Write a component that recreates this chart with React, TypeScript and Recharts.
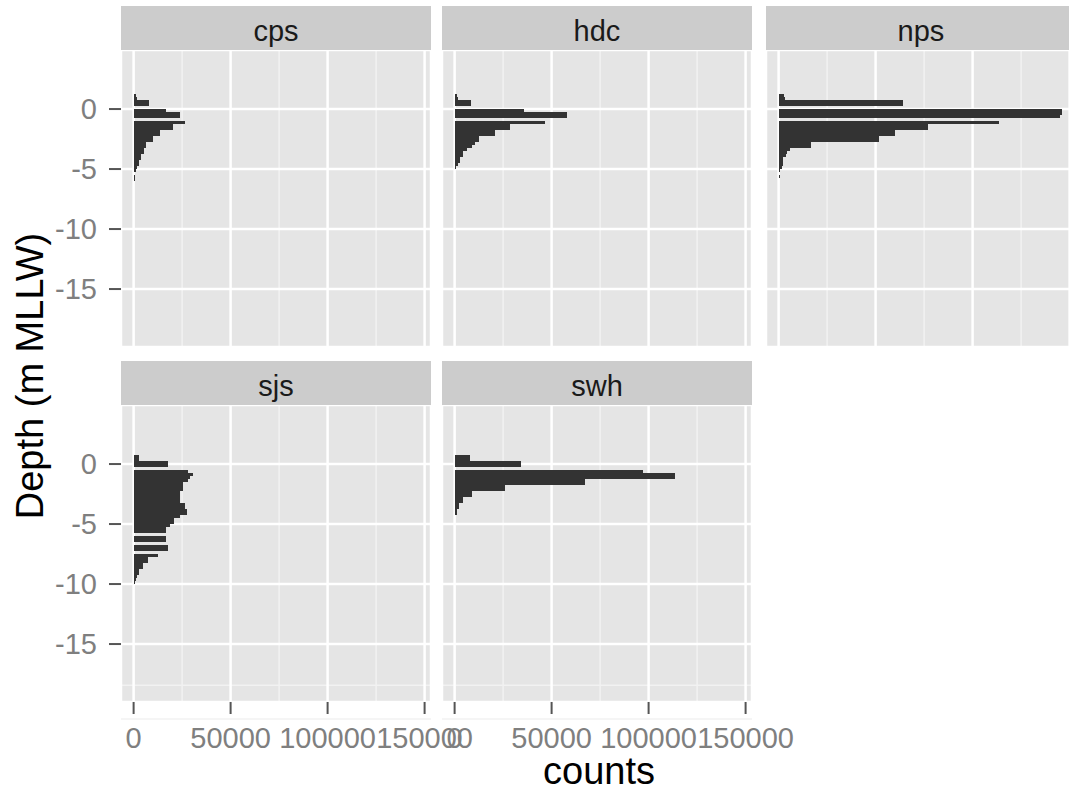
import { BarChart, Bar, XAxis, YAxis, CartesianGrid } from 'recharts';

// depth bins (m MLLW, bin centres, 0.25 m wide)
const DEPTH = [
  1.125, 0.875, 0.625, 0.375, 0.125, -0.125, -0.375, -0.625, -0.875, -1.125,
  -1.375, -1.625, -1.875, -2.125, -2.375, -2.625, -2.875, -3.125, -3.375, -3.625,
  -3.875, -4.125, -4.375, -4.625, -4.875, -5.125, -5.375, -5.625, -5.875, -6.125,
  -6.375, -6.625, -6.875, -7.125, -7.375, -7.625, -7.875, -8.125, -8.375, -8.625,
  -8.875, -9.125, -9.375, -9.625, -9.875,
];

// counts per bin for each site
const CPS = [
  1200, 1700, 7800, 7800, 0, 16800, 23700, 23700, 0, 26300,
  20300, 20300, 13700, 13700, 10000, 10000, 6500, 6500, 5200, 5200,
  4000, 4000, 2800, 2800, 1700, 1000, 0, 900, 700, 0,
  0, 0, 0, 0, 0, 0, 0, 0, 0, 0,
  0, 0, 0, 0, 0,
];
const HDC = [
  1200, 1700, 8600, 8600, 0, 35600, 57700, 57700, 0, 46700,
  28700, 28700, 21000, 21000, 12400, 12400, 10500, 8900, 6400, 4100,
  4100, 2900, 2900, 1700, 800, 0, 0, 0, 0, 0,
  0, 0, 0, 0, 0, 0, 0, 0, 0, 0,
  0, 0, 0, 0, 0,
];
const NPS = [
  3000, 3400, 64000, 64000, 0, 146000, 146000, 145000, 0, 113600,
  77000, 77000, 59800, 59800, 52000, 52000, 16800, 16800, 5700, 4500,
  3600, 2200, 2200, 2200, 1500, 800, 0, 800, 0, 0,
  0, 0, 0, 0, 0, 0, 0, 0, 0, 0,
  0, 0, 0, 0, 0,
];
const SJS = [
  0, 0, 2700, 2700, 17700, 17700, 0, 28000, 30600, 29000,
  28000, 25400, 25400, 25400, 23700, 23700, 23700, 23700, 26300, 26300,
  27500, 27500, 23700, 21000, 21000, 18600, 16800, 16800, 0, 16800,
  16800, 0, 17500, 17500, 0, 12500, 7400, 7400, 4800, 4800,
  2700, 2700, 1700, 1000, 800,
];
const SWH = [
  0, 0, 8100, 8100, 34400, 34400, 0, 96900, 113400, 113400,
  67400, 67400, 25800, 25800, 8900, 8900, 4100, 4100, 2400, 2400,
  1200, 1200, 0, 0, 0, 0, 0, 0, 0, 0,
  0, 0, 0, 0, 0, 0, 0, 0, 0, 0,
  0, 0, 0, 0, 0,
];

const X_TICKS = [0, 50000, 100000, 150000];
const X_MINOR = [25000, 75000, 125000];
const Y_TICKS = [-15, -10, -5, 0];
const Y_MINOR = [2.5, -2.5, -7.5, -12.5, -17.5];
const X_DOMAIN = [-6500, 153300];
const Y_DOMAIN = [-19.83, 4.92];

const rows = DEPTH.map((depth, i) => ({
  depth,
  cps: CPS[i],
  hdc: HDC[i],
  nps: NPS[i],
  sjs: SJS[i],
  swh: SWH[i],
}));

const COL_LEFT = [121, 442, 766];
const ROW_TOP = [50, 405];
const STRIP_H = 44;
const PANEL_W = 310;
const PANEL_H = 297;
const Y_GUTTER = 121;
const X_GUTTER = 60;
const RIGHT_PAD = 60;

const FONT = '"Liberation Sans", Arial, Helvetica, sans-serif';
const tickText = { fill: '#7F7F7F', fontSize: 29, fontFamily: FONT };
const tickLine = { stroke: '#555555', strokeWidth: 2 };

type PanelProps = { site: string; col: number; row: number; showX: boolean; showY: boolean };

const Panel = ({ site, col, row, showX, showY }: PanelProps) => {
  const left = COL_LEFT[col];
  const top = ROW_TOP[row];
  const gutter = showY ? Y_GUTTER : 0;
  const pad = showX ? RIGHT_PAD : 0;
  return (
    <>
      <svg
        width={PANEL_W}
        height={STRIP_H}
        style={{ position: 'absolute', left, top: top - STRIP_H }}
      >
        <rect width={PANEL_W} height={STRIP_H} fill="#CCCCCC" />
        <text x={PANEL_W / 2} y={34.5} textAnchor="middle" fontSize={29} fill="#1A1A1A" fontFamily={FONT}>
          {site}
        </text>
      </svg>
      <div style={{ position: 'absolute', left: left - gutter, top }}>
        <BarChart
          layout="vertical"
          width={gutter + PANEL_W + pad}
          height={PANEL_H + (showX ? X_GUTTER : 0)}
          data={rows}
          margin={{ top: 0, right: pad, bottom: 0, left: 0 }}
          barCategoryGap={0}
        >
          <XAxis
            type="number"
            domain={X_DOMAIN}
            ticks={X_TICKS}
            allowDataOverflow
            interval={0}
            hide={!showX}
            height={X_GUTTER}
            axisLine={false}
            tickSize={12}
            tickMargin={13}
            tick={tickText}
            tickLine={tickLine}
          />
          {/* depth runs upward: shallow at top */}
          <YAxis
            type="number"
            dataKey="depth"
            domain={Y_DOMAIN}
            ticks={Y_TICKS}
            reversed
            allowDataOverflow
            interval={0}
            hide={!showY}
            width={Y_GUTTER}
            axisLine={false}
            tickSize={12}
            tickMargin={12}
            tick={tickText}
            tickLine={tickLine}
          />
          {/* hidden axes carrying the minor grid breaks */}
          <XAxis xAxisId="minor" type="number" domain={X_DOMAIN} ticks={X_MINOR} allowDataOverflow hide />
          <YAxis yAxisId="minor" type="number" domain={Y_DOMAIN} ticks={Y_MINOR} reversed allowDataOverflow hide />
          <CartesianGrid xAxisId="minor" yAxisId="minor" fill="#E5E5E5" stroke="#F2F2F2" strokeWidth={1.5} />
          <CartesianGrid stroke="#FFFFFF" strokeWidth={2.5} />
          <Bar
            dataKey={site}
            fill="#333333"
            maxBarSize={3}
            shapeRendering="crispEdges"
            isAnimationActive={false}
          />
        </BarChart>
      </div>
    </>
  );
};

const App = () => {
  return (
    <div
      style={{
        position: 'absolute',
        left: 0,
        top: 0,
        width: 1069,
        height: 794,
        overflow: 'hidden',
        background: '#FFFFFF',
        fontFamily: FONT,
      }}
    >
      <Panel site="cps" col={0} row={0} showX={false} showY />
      <Panel site="hdc" col={1} row={0} showX={false} showY={false} />
      <Panel site="nps" col={2} row={0} showX={false} showY={false} />
      <Panel site="sjs" col={0} row={1} showX showY />
      <Panel site="swh" col={1} row={1} showX showY={false} />
      <svg width={1069} height={794} style={{ position: 'absolute', left: 0, top: 0, pointerEvents: 'none' }}>
        <text
          transform="translate(43,376) rotate(-90)"
          textAnchor="middle"
          fontSize={38}
          fill="#000000"
          fontFamily={FONT}
        >
          Depth (m MLLW)
        </text>
        <text x={599} y={784} textAnchor="middle" fontSize={38} fill="#000000" fontFamily={FONT}>
          counts
        </text>
      </svg>
    </div>
  );
};

export default App;
